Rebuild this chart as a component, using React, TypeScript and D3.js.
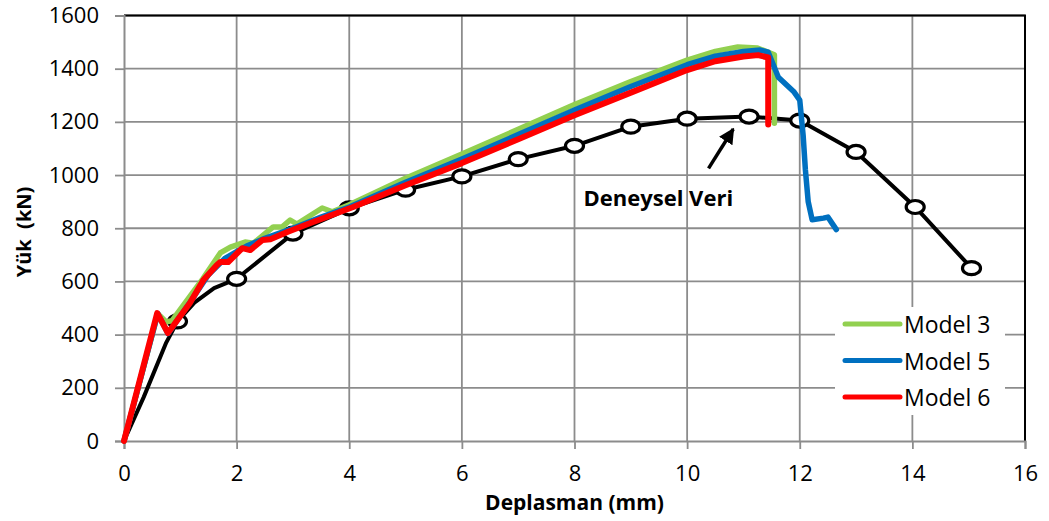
import * as d3 from "d3";
import { useEffect, useRef } from "react";

// tick labels
const xTicks = [0, 2, 4, 6, 8, 10, 12, 14, 16];
const yTicks = [0, 200, 400, 600, 800, 1000, 1200, 1400, 1600];

// Deneysel Veri (experimental) - marked: 1 = circle marker
const expDisp = [0, 0.35, 0.75, 0.95, 1.25, 1.6, 2.0, 3.0, 4.0, 5.0, 6.0, 7.0, 8.0, 9.0, 10.0, 11.1, 12.0, 13.0, 14.05, 15.05];
const expLoad = [0, 165, 370, 450, 520, 575, 610, 780, 875, 945, 995, 1060, 1110, 1182, 1212, 1220, 1205, 1087, 880, 650];
const expMarked = [0, 0, 0, 1, 0, 0, 1, 1, 1, 1, 1, 1, 1, 1, 1, 1, 1, 1, 1, 1];

// Model 3
const m3Disp = [0, 0.6, 0.75, 0.85, 1.0, 1.4, 1.71, 1.89, 2.15, 2.3, 2.65, 2.81, 2.95, 3.07, 3.52, 3.7, 4.0, 5, 6, 7, 8, 9, 10, 10.5, 10.9, 11.25, 11.55, 11.55];
const m3Load = [0, 479, 448, 452, 495, 610, 707, 729, 748, 744, 805, 805, 831, 816, 876, 862, 888, 988, 1079, 1172, 1265, 1352, 1432, 1465, 1482, 1478, 1452, 1195];

// Model 5
const m5Disp = [0, 0.6, 0.78, 1.2, 1.5, 1.8, 2.0, 2.2, 2.5, 3.0, 3.5, 4.0, 5, 6, 7, 8, 9, 10, 10.5, 11, 11.3, 11.44, 11.62, 11.9, 12.0, 12.06, 12.1, 12.15, 12.22, 12.42, 12.5, 12.56, 12.65];
const m5Load = [0, 479, 404, 530, 625, 688, 712, 735, 762, 800, 842, 880, 973, 1060, 1152, 1245, 1333, 1415, 1447, 1465, 1470, 1462, 1368, 1312, 1282, 1150, 1020, 900, 832, 838, 842, 823, 795];

// Model 6
const m6Disp = [0, 0.59, 0.78, 1.17, 1.41, 1.65, 1.71, 1.85, 2.1, 2.24, 2.46, 2.6, 2.9, 3.3, 4.07, 5, 6, 7, 8, 9, 10, 10.5, 11, 11.26, 11.44, 11.44];
const m6Load = [0, 481, 406, 519, 605, 662, 673, 673, 725, 718, 756, 759, 786, 819, 880, 962, 1045, 1135, 1225, 1310, 1395, 1428, 1446, 1451, 1442, 1190];

const series = [
    { name: "Model 3", color: "#92D050", disp: m3Disp, load: m3Load, width: 5.5 },
    { name: "Model 5", color: "#0070C0", disp: m5Disp, load: m5Load, width: 5.5 },
    { name: "Model 6", color: "#FF0000", disp: m6Disp, load: m6Load, width: 6 }
];

const font = "'Open Sans', sans-serif";

function App() {
    const ref = useRef<SVGSVGElement>(null);

    useEffect(() => {
        const svg = d3.select(ref.current);
        svg.selectAll("*").remove();

        const x = d3.scaleLinear().domain([0, 16]).range([124, 1025]);
        const y = d3.scaleLinear().domain([0, 1600]).range([441, 15.5]);
        const gridColor = "#8c8c8c";

        svg.append("rect").attr("width", 1049).attr("height", 521).attr("fill", "#fff");

        // grid
        const grid = svg.append("g");
        grid.selectAll("line.v")
            .data(xTicks.slice(1))
            .enter()
            .append("line")
            .attr("x1", d => x(d)).attr("x2", d => x(d))
            .attr("y1", y(0)).attr("y2", y(1600))
            .attr("stroke", gridColor).attr("stroke-width", 1.8);
        grid.selectAll("line.h")
            .data(yTicks.slice(1))
            .enter()
            .append("line")
            .attr("x1", x(0)).attr("x2", x(16))
            .attr("y1", d => y(d)).attr("y2", d => y(d))
            .attr("stroke", gridColor).attr("stroke-width", 1.8);

        // top and right border
        svg.append("path")
            .attr("d", `M${x(0)},${y(1600)}H${x(16)}V${y(0)}`)
            .attr("fill", "none").attr("stroke", "#000").attr("stroke-width", 2);

        // axes
        const xAxis = svg.append("g")
            .attr("transform", `translate(0,${y(0)})`)
            .call(d3.axisBottom(x).tickValues(xTicks).tickSize(8).tickPadding(16).tickFormat(d3.format("d")));
        const yAxis = svg.append("g")
            .attr("transform", `translate(${x(0)},0)`)
            .call(d3.axisLeft(y).tickValues(yTicks).tickSize(9).tickPadding(16).tickFormat(d3.format("d")));
        [xAxis, yAxis].forEach(a => {
            a.select(".domain").attr("stroke", gridColor).attr("stroke-width", 2);
            a.selectAll(".tick line").attr("stroke", gridColor).attr("stroke-width", 1.8);
            a.selectAll(".tick text")
                .attr("font-family", font).attr("font-size", 22).attr("fill", "#000");
        });

        // experimental curve
        const line = d3.line<[number, number]>().x(d => x(d[0])).y(d => y(d[1]));
        const expPts: [number, number][] = expDisp.map((d, i) => [d, expLoad[i]]);
        svg.append("path")
            .attr("d", line(expPts))
            .attr("fill", "none").attr("stroke", "#000").attr("stroke-width", 4)
            .attr("stroke-linejoin", "round");
        svg.append("g").selectAll("ellipse")
            .data(expPts.filter((d, i) => expMarked[i]))
            .enter()
            .append("ellipse")
            .attr("cx", d => x(d[0])).attr("cy", d => y(d[1]))
            .attr("rx", 9).attr("ry", 6.5)
            .attr("fill", "#fff").attr("stroke", "#000").attr("stroke-width", 3.2);

        // model curves
        series.forEach(s => {
            const pts: [number, number][] = s.disp.map((d, i) => [d, s.load[i]]);
            svg.append("path")
                .attr("d", line(pts))
                .attr("fill", "none").attr("stroke", s.color).attr("stroke-width", s.width)
                .attr("stroke-linejoin", "round").attr("stroke-linecap", "round");
        });

        // annotation
        svg.append("defs").append("marker")
            .attr("id", "arrow").attr("viewBox", "0 0 10 10")
            .attr("refX", 9).attr("refY", 5)
            .attr("markerWidth", 4.5).attr("markerHeight", 4.5)
            .attr("orient", "auto")
            .append("path").attr("d", "M0,0L10,5L0,10Z").attr("fill", "#000");
        svg.append("line")
            .attr("x1", x(10.38)).attr("y1", y(1025))
            .attr("x2", x(10.82)).attr("y2", y(1173))
            .attr("stroke", "#000").attr("stroke-width", 3.5)
            .attr("marker-end", "url(#arrow)");
        svg.append("text")
            .attr("x", x(8.16)).attr("y", y(918))
            .attr("dominant-baseline", "central")
            .attr("font-family", font).attr("font-size", 22).attr("font-weight", "bold")
            .text("Deneysel Veri");

        // legend
        const legend = svg.append("g");
        legend.append("rect")
            .attr("x", 835).attr("y", 307).attr("width", 170).attr("height", 108)
            .attr("fill", "#fff");
        const items = legend.selectAll("g")
            .data(series)
            .enter()
            .append("g")
            .attr("transform", (d, i) => `translate(845,${324 + i * 36.5})`);
        items.append("line")
            .attr("x1", 0).attr("x2", 55)
            .attr("stroke", d => d.color).attr("stroke-width", 5).attr("stroke-linecap", "round");
        items.append("text")
            .attr("x", 59).attr("dominant-baseline", "central")
            .attr("font-family", font).attr("font-size", 23)
            .text(d => d.name);

        // axis titles
        svg.append("text")
            .attr("x", x(8)).attr("y", 502)
            .attr("text-anchor", "middle").attr("dominant-baseline", "central")
            .attr("font-family", font).attr("font-size", 21).attr("font-weight", "bold")
            .text("Deplasman (mm)");
        svg.append("text")
            .attr("transform", "translate(23,232) rotate(-90)")
            .attr("text-anchor", "middle").attr("dominant-baseline", "central")
            .attr("font-family", font).attr("font-size", 20).attr("font-weight", "bold")
            .style("white-space", "pre")
            .text("Yük  (kN)");
    }, []);

    return (
        <svg ref={ref} width={1049} height={521} style={{ position: "absolute", left: 0, top: 0 }}></svg>
    );
}

export default App;
